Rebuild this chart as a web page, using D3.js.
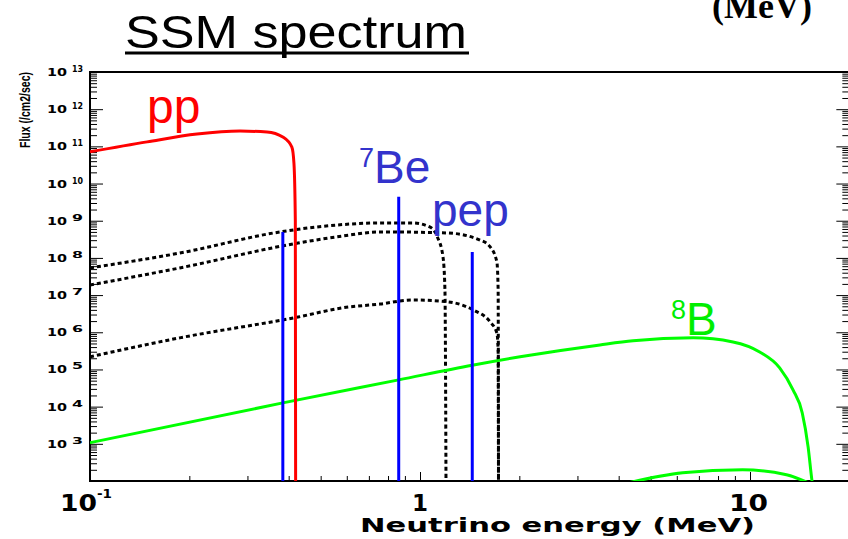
<!DOCTYPE html>
<html>
<head>
<meta charset="utf-8">
<script src="https://cdn.jsdelivr.net/npm/d3@7"></script>
<style>
  body { margin: 0; background: #fff; }
  svg { display: block; }
</style>
</head>
<body>
<div id="chart"></div>
<script>
// solar neutrino spectra (E in MeV, flux in /cm2/sec)
var ppE    = [0.1, 0.149, 0.211, 0.285, 0.344, 0.384, 0.409, 0.415, 0.419, 0.42];
var ppFlux = [7.1e10, 1.32e11, 2.14e11, 2.57e11, 2.45e11, 1.78e11, 9.5e10, 3.5e10, 1e9, 10];

var n13E    = [0.1, 0.187, 0.377, 0.573, 0.757, 0.952, 1.07, 1.13, 1.174, 1.19, 1.2];
var n13Flux = [5.4e7, 1.35e8, 5.0e8, 7.8e8, 8.7e8, 8.7e8, 6.8e8, 3.6e8, 1.07e8, 1.4e7, 10];

var o15E    = [0.1, 0.187, 0.427, 0.585, 0.757, 1.21, 1.52, 1.63, 1.71, 1.725, 1.73];
var o15Flux = [1.86e7, 5.37e7, 2.51e8, 3.89e8, 5.01e8, 4.68e8, 3.02e8, 2.0e8, 7.76e7, 1.38e7, 10];

var f17E    = [0.1, 0.187, 0.427, 0.585, 0.757, 0.952, 1.21, 1.45, 1.63, 1.71, 1.725, 1.73];
var f17Flux = [2.19e5, 7.08e5, 2.57e6, 4.57e6, 5.75e6, 7.41e6, 6.61e6, 3.98e6, 1.91e6, 9.55e5, 3.39e5, 10];

var b8E    = [0.1, 0.384, 0.862, 1.44, 2.01, 3.51, 4.42, 6.72, 8.88, 10.7, 12.3, 13.5, 14.4, 15.0, 15.4, 15.6];
var b8Flux = [1.07e3, 1.26e4, 5.25e4, 1.3e5, 2.19e5, 4.57e5, 5.89e5, 7.08e5, 5.5e5, 2.95e5, 1.1e5, 2.82e4, 6.76e3, 8.3e2, 1.07e2, 50];

var hepE    = [4.3, 6.25, 9.5, 12.9, 15.0];
var hepFlux = [90, 166, 200, 148, 90];

// mono-energetic lines: 7Be (2) and pep
var lineE    = [0.384, 0.862, 1.44];
var lineFlux = [5.0e8, 4.4e9, 1.44e8];

var yExp = [3, 4, 5, 6, 7, 8, 9, 10, 11, 12, 13];

var width = 848;
var height = 539;
var svg = d3.select("#chart").append("svg").attr("width", width).attr("height", height);

var x = d3.scaleLog().domain([0.1, 20]).range([90, 90 + 330 * Math.log10(200)]);
var y = d3.scaleLog().domain([1e2, 1e13]).range([481, 72]);

// clip to frame
svg.append("clipPath").attr("id", "clip").append("rect")
    .attr("x", 90).attr("y", 72).attr("width", x.range()[1] - 90).attr("height", 409);

// ticks
var majorY = d3.range(2, 14).map(function(e) { return Math.pow(10, e); });
var minorY = [];
for (var e = 2; e < 13; e++) for (var k = 2; k < 10; k++) minorY.push(k * Math.pow(10, e));
var majorX = [1, 10];
var minorX = [];
[0.1, 1, 10].forEach(function(d) { for (var k = 2; k < 10; k++) if (k * d <= 20) minorX.push(k * d); });

function tickAxis(axis, vals, size, tr) {
  svg.append("g").attr("transform", tr)
    .call(axis.tickValues(vals).tickSize(size).tickFormat(""))
    .call(function(g) { g.select(".domain").remove(); g.selectAll("line").attr("stroke", "#000").attr("stroke-width", 1); });
}
tickAxis(d3.axisLeft(y), majorY, -13, "translate(90,0)");
tickAxis(d3.axisLeft(y), minorY, -7, "translate(90,0)");
tickAxis(d3.axisRight(y), majorY, -13, "translate(" + x.range()[1] + ",0)");
tickAxis(d3.axisRight(y), minorY, -7, "translate(" + x.range()[1] + ",0)");
tickAxis(d3.axisBottom(x), majorX, -9, "translate(0,481)");
tickAxis(d3.axisBottom(x), minorX, -5, "translate(0,481)");

// frame
svg.append("rect").attr("x", 90).attr("y", 72).attr("width", x.range()[1] - 90).attr("height", 409)
    .attr("fill", "none").attr("stroke", "#000").attr("stroke-width", 2);

// curves
var plot = svg.append("g").attr("clip-path", "url(#clip)");
var line = d3.line().x(function(d) { return x(d[0]); }).y(function(d) { return y(d[1]); }).curve(d3.curveMonotoneX);
function zip(a, b) { return a.map(function(d, i) { return [d, b[i]]; }); }

[[n13E, n13Flux], [o15E, o15Flux], [f17E, f17Flux]].forEach(function(s) {
  plot.append("path").attr("d", line(zip(s[0], s[1])))
    .attr("fill", "none").attr("stroke", "#000").attr("stroke-width", 3).attr("stroke-dasharray", "4,3");
});
plot.append("path").attr("d", line(zip(b8E, b8Flux))).attr("fill", "none").attr("stroke", "#00ff00").attr("stroke-width", 3);
plot.append("path").attr("d", line(zip(hepE, hepFlux))).attr("fill", "none").attr("stroke", "#00ff00").attr("stroke-width", 3);
plot.append("path").attr("d", line(zip(ppE, ppFlux))).attr("fill", "none").attr("stroke", "#ff0000").attr("stroke-width", 3);

plot.selectAll(".mono").data(zip(lineE, lineFlux)).enter().append("line")
    .attr("x1", function(d) { return x(d[0]); }).attr("x2", function(d) { return x(d[0]); })
    .attr("y1", y(1e2)).attr("y2", function(d) { return y(d[1]); })
    .attr("stroke", "#0000ff").attr("stroke-width", 3);

// y tick labels (wide bold "10" with raised exponent)
var yl = svg.append("g").attr("font-family", "DejaVu Sans, sans-serif").attr("font-weight", "bold");
yExp.forEach(function(e) {
  var ty = y(Math.pow(10, e));
  yl.append("text").attr("x", 47).attr("y", ty + 4).attr("font-size", 10)
    .attr("textLength", 20).attr("lengthAdjust", "spacingAndGlyphs").text("10");
  yl.append("text").attr("x", 72).attr("y", ty).attr("font-size", 8)
    .attr("textLength", 11).attr("lengthAdjust", "spacingAndGlyphs").text(e);
});

// x tick labels
var xl = svg.append("g").attr("font-family", "DejaVu Sans, sans-serif").attr("font-weight", "bold");
xl.append("text").attr("x", 60).attr("y", 511).attr("font-size", 23).attr("textLength", 37).attr("lengthAdjust", "spacingAndGlyphs").text("10");
xl.append("text").attr("x", 97).attr("y", 498).attr("font-size", 13).attr("textLength", 15).attr("lengthAdjust", "spacingAndGlyphs").text("-1");
xl.append("text").attr("x", x(1)).attr("y", 511).attr("text-anchor", "middle").attr("font-size", 23).text("1");
xl.append("text").attr("x", 729).attr("y", 511).attr("font-size", 23).attr("textLength", 39).attr("lengthAdjust", "spacingAndGlyphs").text("10");

// axis titles
svg.append("text").attr("x", 360).attr("y", 532).attr("font-family", "DejaVu Sans, sans-serif").attr("font-weight", "bold")
    .attr("font-size", 19).attr("textLength", 395).attr("lengthAdjust", "spacingAndGlyphs").text("Neutrino energy (MeV)");
svg.append("text").attr("transform", "translate(30,110) rotate(-90)").attr("text-anchor", "middle")
    .attr("font-family", "Liberation Sans, Arial, sans-serif").attr("font-weight", "bold")
    .attr("font-size", 15).attr("textLength", 76).attr("lengthAdjust", "spacingAndGlyphs").text("Flux (/cm2/sec)");

// title
svg.append("text").attr("x", 125).attr("y", 48).attr("font-family", "Liberation Sans, Arial, sans-serif")
    .attr("font-size", 47).attr("textLength", 342).attr("lengthAdjust", "spacingAndGlyphs").text("SSM spectrum");
svg.append("line").attr("x1", 125).attr("x2", 469).attr("y1", 53).attr("y2", 53).attr("stroke", "#000").attr("stroke-width", 3);
svg.append("text").attr("x", 712).attr("y", 18).attr("font-family", "Liberation Serif, Times New Roman, serif")
    .attr("font-weight", "bold").attr("font-size", 36).text("(MeV)");

// source labels
var lab = svg.append("g").attr("font-family", "Liberation Sans, Arial, sans-serif");
lab.append("text").attr("x", 147).attr("y", 123).attr("font-size", 48).attr("fill", "#ff0000").text("pp");
var be = lab.append("text").attr("x", 359).attr("y", 183).attr("font-size", 46).attr("fill", "#3333cc");
be.append("tspan").attr("font-size", 27).attr("dy", -16).text("7");
be.append("tspan").attr("dy", 16).text("Be");
lab.append("text").attr("x", 432).attr("y", 226).attr("font-size", 46).attr("fill", "#3333cc").text("pep");
var b = lab.append("text").attr("x", 671).attr("y", 335).attr("font-size", 46).attr("fill", "#00ee00");
b.append("tspan").attr("font-size", 27).attr("dy", -16).text("8");
b.append("tspan").attr("dy", 16).text("B");
</script>
</body>
</html>
